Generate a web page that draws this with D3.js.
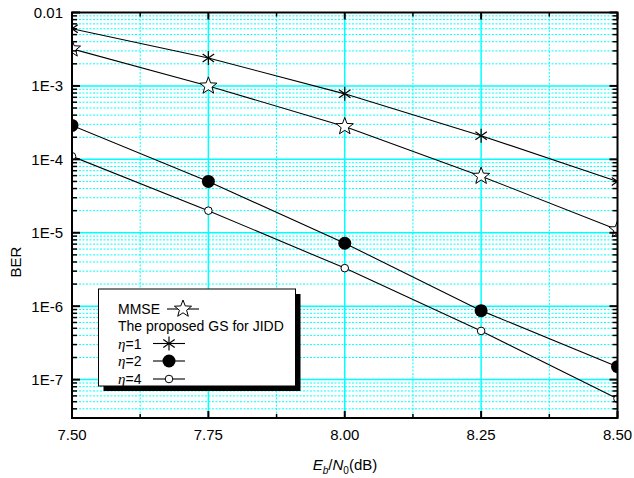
<!DOCTYPE html>
<html>
<head>
<meta charset="utf-8">
<script src="https://cdn.jsdelivr.net/npm/d3@7"></script>
<style>
  html, body { margin: 0; padding: 0; background: #fff; }
  svg { display: block; font-family: "Liberation Sans", Arial, sans-serif; }
</style>
</head>
<body>
<svg id="chart" width="634" height="478"></svg>
<script>
// Eb/N0 sample points (dB)
const ebn0 = [7.5, 7.75, 8.0, 8.25, 8.5];

// BER curves
const berMMSE = [3.2e-3, 1.0e-3, 2.8e-4, 5.9e-5, 1.1e-5];
const berEta1 = [6.0e-3, 2.4e-3, 7.8e-4, 2.1e-4, 5.0e-5];
const berEta2 = [2.9e-4, 5.0e-5, 7.2e-6, 8.7e-7, 1.5e-7];
const berEta4 = [1.1e-4, 2.0e-5, 3.3e-6, 4.6e-7, 5.5e-8];

// Axis ticks and labels
const xTicks = [7.5, 7.75, 8.0, 8.25, 8.5];
const xTickLabels = ["7.50", "7.75", "8.00", "8.25", "8.50"];
const xMinorTicks = [7.625, 7.875, 8.125, 8.375];
const yTicks = [1e-2, 1e-3, 1e-4, 1e-5, 1e-6, 1e-7];
const yTickLabels = ["0.01", "1E-3", "1E-4", "1E-5", "1E-6", "1E-7"];

const svg = d3.select("#chart");
const L = 72, R = 617.5, T = 12.5, B = 418;

const x = d3.scaleLinear().domain([7.5, 8.5]).range([L, R]);
const y = d3.scaleLog().domain([3e-8, 1e-2]).range([B, T]);

// minor decade ticks (2..9 per decade) inside the domain
const yMinor = [];
for (let e = -8; e <= -3; e++) {
  for (let m = 2; m <= 9; m++) {
    const v = m * Math.pow(10, e);
    if (v >= 3e-8 && v < 1e-2) yMinor.push(v);
  }
}

const cyan = "#00ffff";
const grid = svg.append("g");

// minor grid (dotted)
grid.selectAll("line.ymin").data(yMinor).enter().append("line")
  .attr("x1", L).attr("x2", R).attr("y1", d => y(d)).attr("y2", d => y(d))
  .attr("stroke", cyan).attr("stroke-width", 1).attr("stroke-dasharray", "2,1.5");
grid.selectAll("line.xmin").data(xMinorTicks).enter().append("line")
  .attr("y1", T).attr("y2", B).attr("x1", d => x(d)).attr("x2", d => x(d))
  .attr("stroke", cyan).attr("stroke-width", 1).attr("stroke-dasharray", "2,1.5");

// major grid (solid)
grid.selectAll("line.ymaj").data(yTicks.slice(1)).enter().append("line")
  .attr("x1", L).attr("x2", R).attr("y1", d => y(d)).attr("y2", d => y(d))
  .attr("stroke", cyan).attr("stroke-width", 1.5);
grid.selectAll("line.xmaj").data(xTicks.slice(1, -1)).enter().append("line")
  .attr("y1", T).attr("y2", B).attr("x1", d => x(d)).attr("x2", d => x(d))
  .attr("stroke", cyan).attr("stroke-width", 1.5);

// clip for series and markers
svg.append("defs").append("clipPath").attr("id", "plotClip")
  .append("rect").attr("x", L).attr("y", T).attr("width", R - L).attr("height", B - T);

const plot = svg.append("g").attr("clip-path", "url(#plotClip)");
const line = d3.line().x((d, i) => x(ebn0[i])).y(d => y(d));

// marker painters
function asterisk(g, cx, cy) {
  const r = 7;
  [90, 35, 145].forEach(a => {
    const rad = a * Math.PI / 180;
    g.append("line")
      .attr("x1", cx - r * Math.cos(rad)).attr("y1", cy - r * Math.sin(rad))
      .attr("x2", cx + r * Math.cos(rad)).attr("y2", cy + r * Math.sin(rad))
      .attr("stroke", "#000").attr("stroke-width", 1.2);
  });
}
function star(g, cx, cy) {
  const pts = [];
  for (let i = 0; i < 10; i++) {
    const r = i % 2 === 0 ? 9 : 3.8;
    const a = -Math.PI / 2 + i * Math.PI / 5;
    pts.push([cx + r * Math.cos(a), cy + r * Math.sin(a)]);
  }
  g.append("polygon").attr("points", pts.map(p => p.join(",")).join(" "))
    .attr("fill", "#fff").attr("stroke", "#000").attr("stroke-width", 1);
}
function dotFilled(g, cx, cy) {
  g.append("circle").attr("cx", cx).attr("cy", cy).attr("r", 6.5).attr("fill", "#000");
}
function dotOpen(g, cx, cy) {
  g.append("circle").attr("cx", cx).attr("cy", cy).attr("r", 3.8)
    .attr("fill", "#fff").attr("stroke", "#000").attr("stroke-width", 1);
}

const series = [
  { data: berEta1, marker: asterisk },
  { data: berMMSE, marker: star },
  { data: berEta2, marker: dotFilled },
  { data: berEta4, marker: dotOpen }
];

series.forEach(s => {
  plot.append("path").datum(s.data).attr("d", line)
    .attr("fill", "none").attr("stroke", "#000").attr("stroke-width", 1.1);
});
series.forEach(s => {
  const g = plot.append("g");
  s.data.forEach((v, i) => s.marker(g, x(ebn0[i]), y(v)));
});

// axes frame and ticks (ticks pointing inward on all four sides)
const axes = svg.append("g").attr("stroke", "#000");
axes.append("rect").attr("x", L).attr("y", T).attr("width", R - L).attr("height", B - T)
  .attr("fill", "none").attr("stroke-width", 2);

yTicks.forEach(v => {
  axes.append("line").attr("x1", L).attr("x2", L + 8).attr("y1", y(v)).attr("y2", y(v)).attr("stroke-width", 2);
  axes.append("line").attr("x1", R).attr("x2", R - 8).attr("y1", y(v)).attr("y2", y(v)).attr("stroke-width", 2);
});
yMinor.forEach(v => {
  axes.append("line").attr("x1", L).attr("x2", L + 5).attr("y1", y(v)).attr("y2", y(v)).attr("stroke-width", 1.5);
  axes.append("line").attr("x1", R).attr("x2", R - 5).attr("y1", y(v)).attr("y2", y(v)).attr("stroke-width", 1.5);
});
xTicks.forEach(v => {
  axes.append("line").attr("x1", x(v)).attr("x2", x(v)).attr("y1", B).attr("y2", B - 7).attr("stroke-width", 2);
  axes.append("line").attr("x1", x(v)).attr("x2", x(v)).attr("y1", T).attr("y2", T + 7).attr("stroke-width", 2);
});
xMinorTicks.forEach(v => {
  axes.append("line").attr("x1", x(v)).attr("x2", x(v)).attr("y1", B).attr("y2", B - 4).attr("stroke-width", 1.5);
  axes.append("line").attr("x1", x(v)).attr("x2", x(v)).attr("y1", T).attr("y2", T + 4).attr("stroke-width", 1.5);
});

// tick labels
const labels = svg.append("g").attr("font-size", 15).attr("fill", "#000");
yTicks.forEach((v, i) => {
  labels.append("text").attr("x", L - 9).attr("y", y(v)).attr("dy", "0.36em")
    .attr("text-anchor", "end").text(yTickLabels[i]);
});
xTicks.forEach((v, i) => {
  labels.append("text").attr("x", x(v)).attr("y", B + 22)
    .attr("text-anchor", "middle").text(xTickLabels[i]);
});

// axis titles
svg.append("text").attr("transform", "translate(21,262) rotate(-90)")
  .attr("text-anchor", "middle").attr("font-size", 15).text("BER");

const xt = svg.append("text").attr("x", 345).attr("y", 470)
  .attr("text-anchor", "middle").attr("font-size", 15);
xt.append("tspan").attr("font-style", "italic").text("E");
xt.append("tspan").attr("font-style", "italic").attr("font-size", 10).attr("dy", 4).text("b");
xt.append("tspan").attr("dy", -4).text("/");
xt.append("tspan").attr("font-style", "italic").text("N");
xt.append("tspan").attr("font-size", 10).attr("dy", 4).text("0");
xt.append("tspan").attr("dy", -4).text("(dB)");

// legend
const lg = svg.append("g");
lg.append("rect").attr("x", 103.5).attr("y", 294).attr("width", 197).attr("height", 97).attr("fill", "#000");
lg.append("rect").attr("x", 98.5).attr("y", 289).attr("width", 197).attr("height", 97)
  .attr("fill", "#fff").attr("stroke", "#000").attr("stroke-width", 1);

const legendItems = [
  { label: "MMSE", eta: false, marker: star, x0: 167, x1: 199, y: 309 },
  { label: "The proposed GS for JIDD", eta: false, marker: null, y: 326 },
  { label: "=1", eta: true, marker: asterisk, x0: 153, x1: 185, y: 343.5 },
  { label: "=2", eta: true, marker: dotFilled, x0: 153, x1: 185, y: 361 },
  { label: "=4", eta: true, marker: dotOpen, x0: 153, x1: 185, y: 379 }
];
legendItems.forEach(it => {
  const t = lg.append("text").attr("x", 118).attr("y", it.y).attr("dy", "0.36em").attr("font-size", 14);
  if (it.eta) {
    t.append("tspan").attr("font-family", "'Liberation Serif', 'Times New Roman', serif")
      .attr("font-style", "italic").attr("font-size", 15).text("η");
  }
  t.append("tspan").text(it.label);
  if (it.marker) {
    lg.append("line").attr("x1", it.x0).attr("x2", it.x1).attr("y1", it.y).attr("y2", it.y)
      .attr("stroke", "#000").attr("stroke-width", 1.1);
    it.marker(lg, (it.x0 + it.x1) / 2, it.y);
  }
});
</script>
</body>
</html>
